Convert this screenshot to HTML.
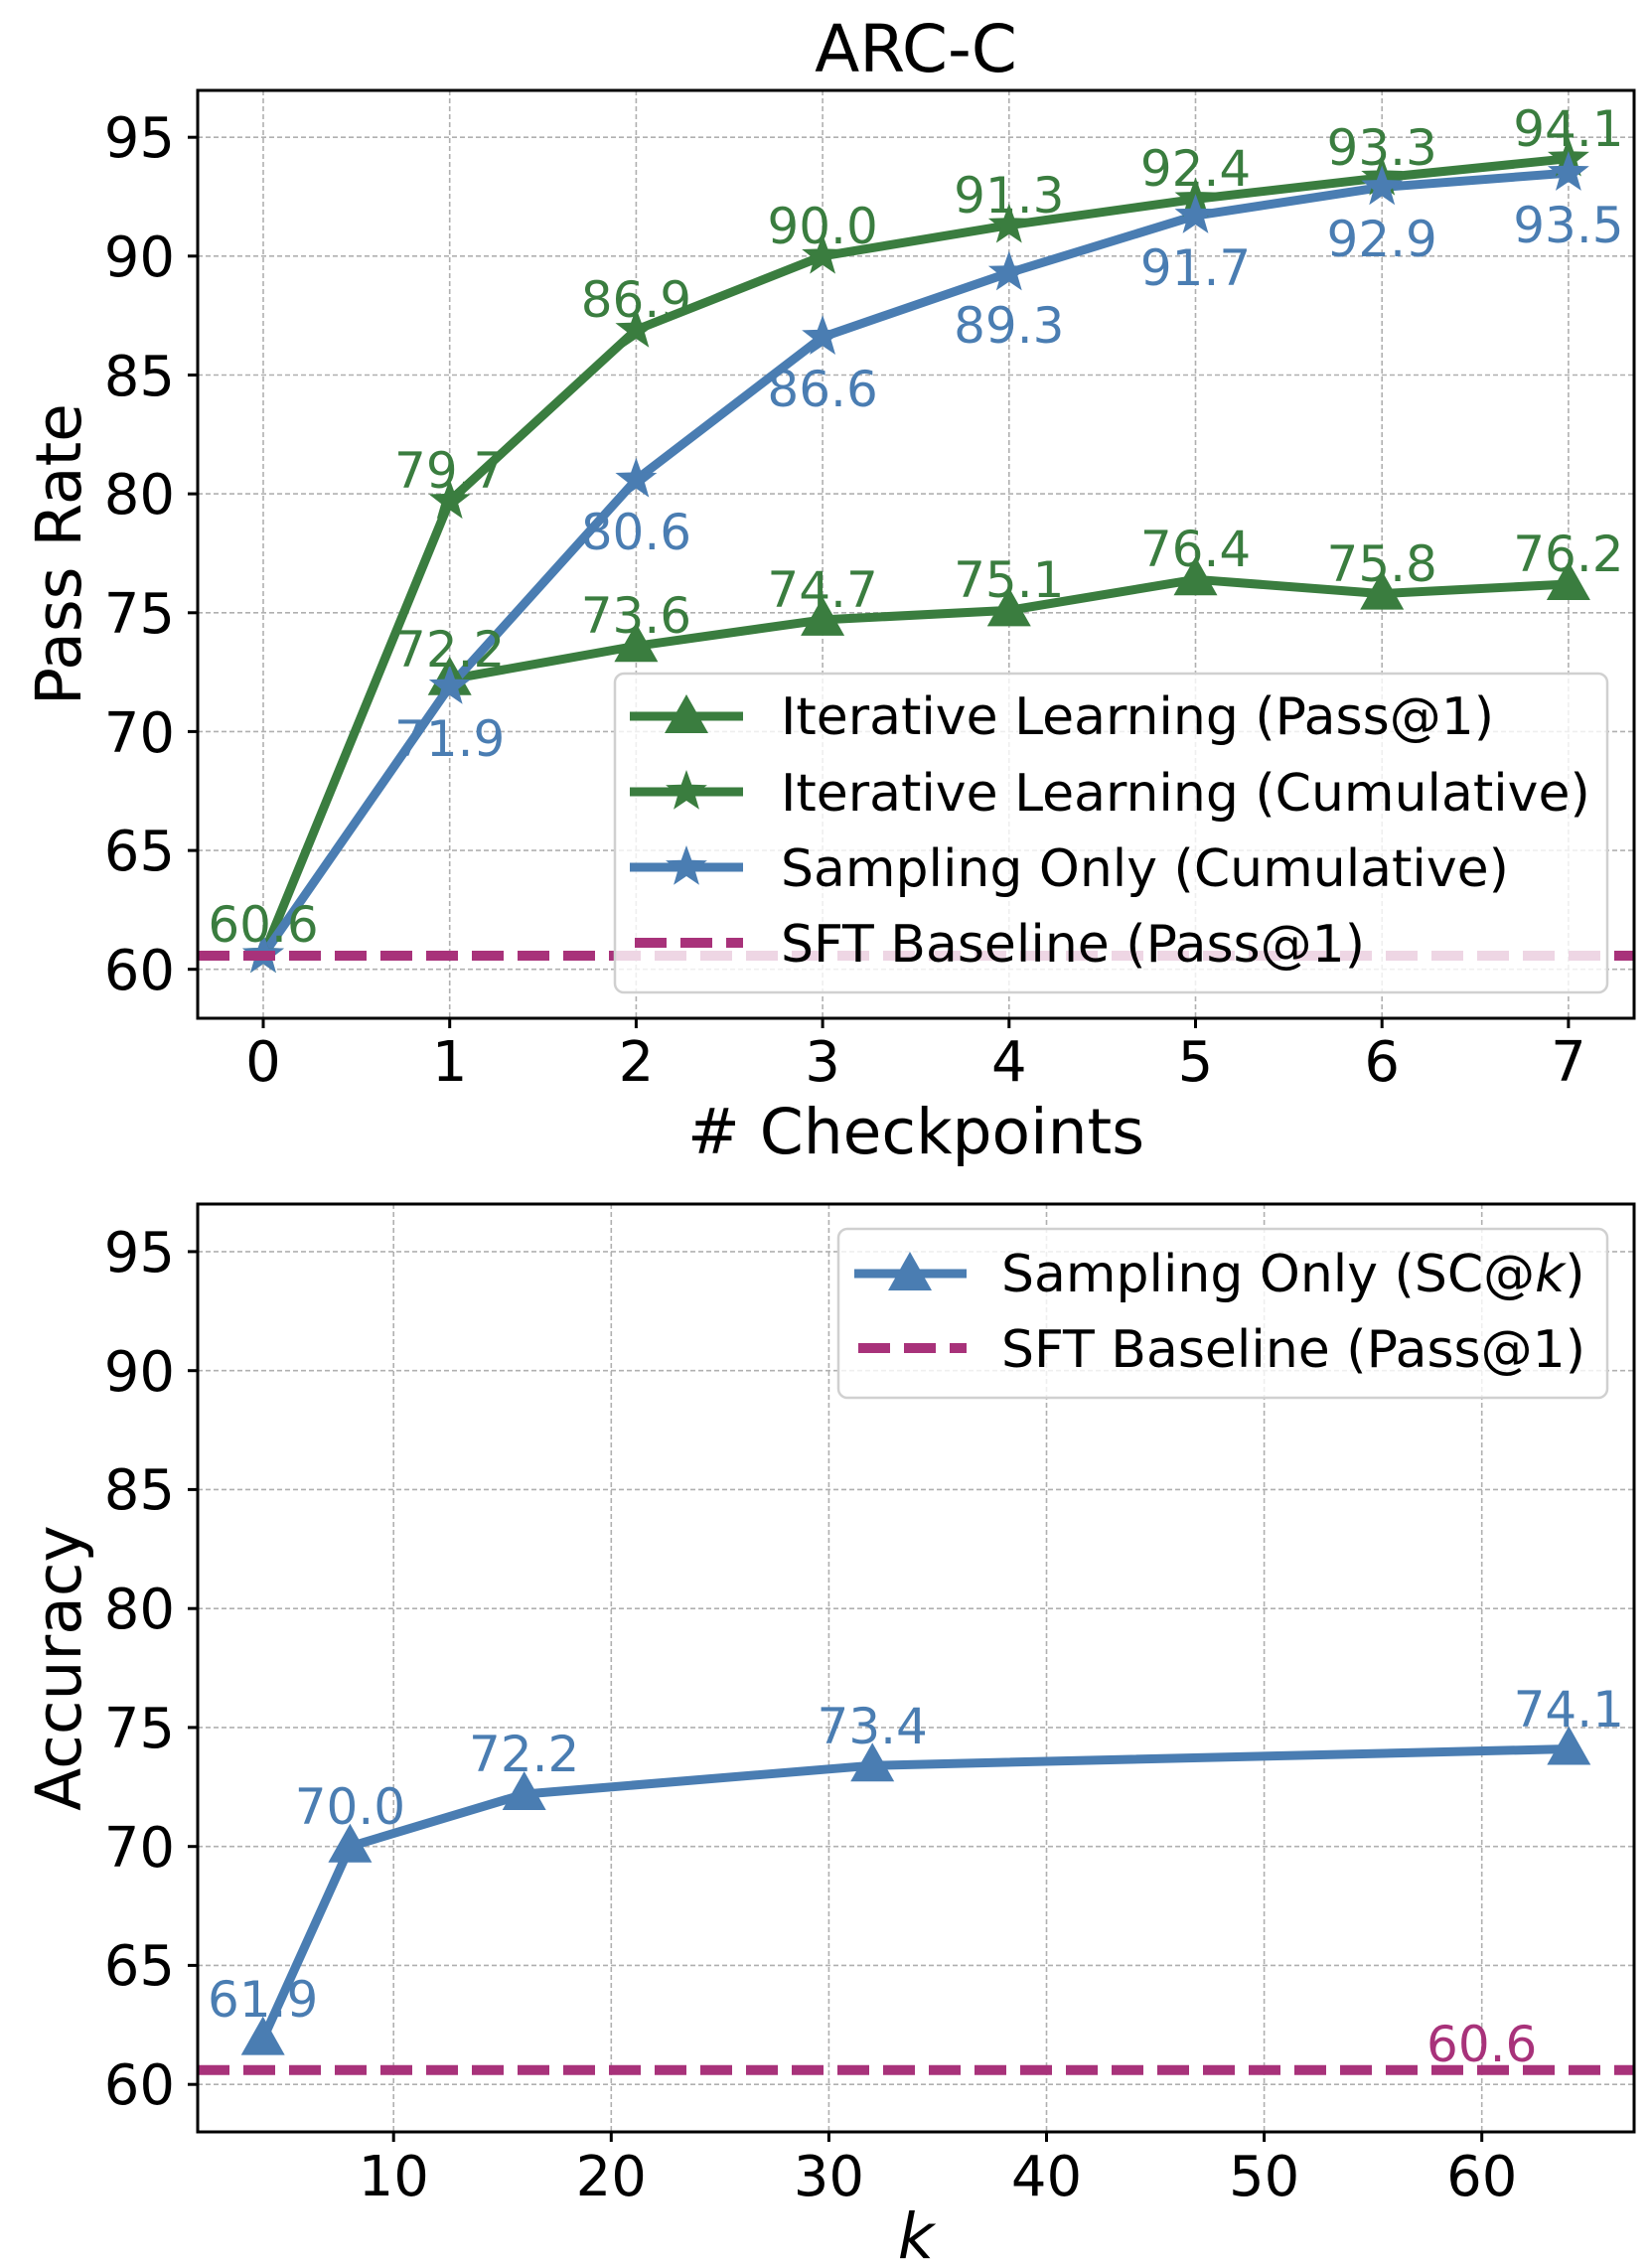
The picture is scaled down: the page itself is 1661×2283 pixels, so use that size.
<!DOCTYPE html>
<html><head><meta charset="utf-8"><style>
html,body{margin:0;padding:0;background:#fff}
svg{display:block}
text{font-family:"DejaVu Sans","Liberation Sans",sans-serif}
</style></head><body>
<svg width="1661" height="2283" viewBox="0 0 1661 2283" xmlns="http://www.w3.org/2000/svg">
<defs>
<path id="st" d="M0,-22 L5.29,-7.28 L20.92,-6.8 L8.56,2.78 L12.93,17.8 L0,9 L-12.93,17.8 L-8.56,2.78 L-20.92,-6.8 L-5.29,-7.28Z"/>
<path id="tr" d="M0,-23 L22,16 L-22,16Z"/>
</defs>
<rect width="1661" height="2283" fill="#fff"/>

<text x="922" y="72" font-size="66" text-anchor="middle">ARC-C</text>
<g stroke="#b0b0b0" stroke-width="1.6" stroke-dasharray="5,3" fill="none">
<line x1="265" y1="91" x2="265" y2="1025"/><line x1="452.7" y1="91" x2="452.7" y2="1025"/>
<line x1="640.4" y1="91" x2="640.4" y2="1025"/><line x1="828.1" y1="91" x2="828.1" y2="1025"/>
<line x1="1015.8" y1="91" x2="1015.8" y2="1025"/><line x1="1203.5" y1="91" x2="1203.5" y2="1025"/>
<line x1="1391.2" y1="91" x2="1391.2" y2="1025"/><line x1="1578.9" y1="91" x2="1578.9" y2="1025"/>
<line x1="199" y1="138.2" x2="1645" y2="138.2"/><line x1="199" y1="257.8" x2="1645" y2="257.8"/>
<line x1="199" y1="377.5" x2="1645" y2="377.5"/><line x1="199" y1="497.1" x2="1645" y2="497.1"/>
<line x1="199" y1="616.8" x2="1645" y2="616.8"/><line x1="199" y1="736.4" x2="1645" y2="736.4"/>
<line x1="199" y1="856.1" x2="1645" y2="856.1"/><line x1="199" y1="975.7" x2="1645" y2="975.7"/>
</g>
<polyline fill="none" stroke="#3a7d3f" stroke-width="9" stroke-linejoin="round" points="452.7,683.8 640.4,650.3 828.1,623.9 1015.8,614.4 1203.5,583.3 1391.2,597.6 1578.9,588"/>
<polyline fill="none" stroke="#3a7d3f" stroke-width="9" stroke-linejoin="round" points="265,961.4 452.7,504.3 640.4,332 828.1,257.8 1015.8,226.7 1203.5,200.4 1391.2,178.8 1578.9,159.7"/>
<polyline fill="none" stroke="#4a7db2" stroke-width="9" stroke-linejoin="round" points="265,961.4 452.7,690.9 640.4,482.8 828.1,339.2 1015.8,274.6 1203.5,217.1 1391.2,188.4 1578.9,174.1"/>
<g fill="#3a7d3f">
<use href="#tr" x="452.7" y="683.8"/><use href="#tr" x="640.4" y="650.3"/><use href="#tr" x="828.1" y="623.9"/><use href="#tr" x="1015.8" y="614.4"/><use href="#tr" x="1203.5" y="583.3"/><use href="#tr" x="1391.2" y="597.6"/><use href="#tr" x="1578.9" y="588"/>
<use href="#st" x="265" y="961.4"/><use href="#st" x="452.7" y="504.3"/><use href="#st" x="640.4" y="332"/><use href="#st" x="828.1" y="257.8"/><use href="#st" x="1015.8" y="226.7"/><use href="#st" x="1203.5" y="200.4"/><use href="#st" x="1391.2" y="178.8"/><use href="#st" x="1578.9" y="159.7"/>
</g>
<g fill="#4a7db2">
<use href="#st" x="265" y="961.4"/><use href="#st" x="452.7" y="690.9"/><use href="#st" x="640.4" y="482.8"/><use href="#st" x="828.1" y="339.2"/><use href="#st" x="1015.8" y="274.6"/><use href="#st" x="1203.5" y="217.1"/><use href="#st" x="1391.2" y="188.4"/><use href="#st" x="1578.9" y="174.1"/>
</g>
<line x1="199" y1="962" x2="1645" y2="962" stroke="#a8327a" stroke-width="10" stroke-dasharray="32,14"/>
<g font-size="50" text-anchor="middle" fill="#3a7d3f">
<text x="452.7" y="671">72.2</text><text x="640.4" y="637">73.6</text><text x="828.1" y="611">74.7</text><text x="1015.8" y="601">75.1</text><text x="1203.5" y="570">76.4</text><text x="1391.2" y="585">75.8</text><text x="1578.9" y="575">76.2</text>
<text x="265" y="948">60.6</text><text x="452.7" y="491">79.7</text><text x="640.4" y="319">86.9</text><text x="828.1" y="245">90.0</text><text x="1015.8" y="214">91.3</text><text x="1203.5" y="187">92.4</text><text x="1391.2" y="166">93.3</text><text x="1578.9" y="147">94.1</text>
</g>
<g font-size="50" text-anchor="middle" fill="#4a7db2">
<text x="452.7" y="761">71.9</text><text x="640.4" y="553">80.6</text><text x="828.1" y="409">86.6</text><text x="1015.8" y="345">89.3</text><text x="1203.5" y="287">91.7</text><text x="1391.2" y="258">92.9</text><text x="1578.9" y="244">93.5</text>
</g>
<rect x="619" y="678" width="999" height="321" rx="9" fill="#fff" fill-opacity="0.8" stroke="#d0d0d0" stroke-width="2.5"/>
<line x1="634" y1="721" x2="748" y2="721" stroke="#3a7d3f" stroke-width="9"/>
<use href="#tr" x="691" y="722" fill="#3a7d3f"/>
<line x1="634" y1="797" x2="748" y2="797" stroke="#3a7d3f" stroke-width="9"/>
<use href="#st" x="691" y="797" fill="#3a7d3f"/>
<line x1="634" y1="873" x2="748" y2="873" stroke="#4a7db2" stroke-width="9"/>
<use href="#st" x="691" y="873" fill="#4a7db2"/>
<line x1="639" y1="949" x2="748" y2="949" stroke="#a8327a" stroke-width="10" stroke-dasharray="32,14"/>
<g font-size="52">
<text x="786" y="739">Iterative Learning (Pass@1)</text>
<text x="786" y="816">Iterative Learning (Cumulative)</text>
<text x="786" y="892">Sampling Only (Cumulative)</text>
<text x="786" y="968">SFT Baseline (Pass@1)</text>
</g>
<rect x="199" y="91" width="1446" height="934" fill="none" stroke="#000" stroke-width="3"/>
<g stroke="#000" stroke-width="3">
<line x1="189" y1="138.2" x2="199" y2="138.2"/><line x1="189" y1="257.8" x2="199" y2="257.8"/><line x1="189" y1="377.5" x2="199" y2="377.5"/><line x1="189" y1="497.1" x2="199" y2="497.1"/><line x1="189" y1="616.8" x2="199" y2="616.8"/><line x1="189" y1="736.4" x2="199" y2="736.4"/><line x1="189" y1="856.1" x2="199" y2="856.1"/><line x1="189" y1="975.7" x2="199" y2="975.7"/>
<line x1="265" y1="1025" x2="265" y2="1035"/><line x1="452.7" y1="1025" x2="452.7" y2="1035"/><line x1="640.4" y1="1025" x2="640.4" y2="1035"/><line x1="828.1" y1="1025" x2="828.1" y2="1035"/><line x1="1015.8" y1="1025" x2="1015.8" y2="1035"/><line x1="1203.5" y1="1025" x2="1203.5" y2="1035"/><line x1="1391.2" y1="1025" x2="1391.2" y2="1035"/><line x1="1578.9" y1="1025" x2="1578.9" y2="1035"/>
</g>
<g font-size="56" text-anchor="end">
<text x="176" y="158">95</text><text x="176" y="278">90</text><text x="176" y="398">85</text><text x="176" y="517">80</text><text x="176" y="637">75</text><text x="176" y="757">70</text><text x="176" y="876">65</text><text x="176" y="996">60</text>
</g>
<g font-size="56" text-anchor="middle">
<text x="265" y="1088">0</text><text x="452.7" y="1088">1</text><text x="640.4" y="1088">2</text><text x="828.1" y="1088">3</text><text x="1015.8" y="1088">4</text><text x="1203.5" y="1088">5</text><text x="1391.2" y="1088">6</text><text x="1578.9" y="1088">7</text>
</g>
<text x="922" y="1161" font-size="63" text-anchor="middle"># Checkpoints</text>
<text transform="translate(81,558) rotate(-90)" font-size="63" text-anchor="middle">Pass Rate</text>

<g stroke="#b0b0b0" stroke-width="1.6" stroke-dasharray="5,3" fill="none">
<line x1="396.2" y1="1212" x2="396.2" y2="2146"/><line x1="615.3" y1="1212" x2="615.3" y2="2146"/><line x1="834.4" y1="1212" x2="834.4" y2="2146"/><line x1="1053.5" y1="1212" x2="1053.5" y2="2146"/><line x1="1272.6" y1="1212" x2="1272.6" y2="2146"/><line x1="1491.7" y1="1212" x2="1491.7" y2="2146"/>
<line x1="199" y1="1259.9" x2="1645" y2="1259.9"/><line x1="199" y1="1379.7" x2="1645" y2="1379.7"/><line x1="199" y1="1499.4" x2="1645" y2="1499.4"/><line x1="199" y1="1619.2" x2="1645" y2="1619.2"/><line x1="199" y1="1738.9" x2="1645" y2="1738.9"/><line x1="199" y1="1858.7" x2="1645" y2="1858.7"/><line x1="199" y1="1978.4" x2="1645" y2="1978.4"/><line x1="199" y1="2098.2" x2="1645" y2="2098.2"/>
</g>
<polyline fill="none" stroke="#4a7db2" stroke-width="9" stroke-linejoin="round" points="264.7,2052.6 352.4,1858.7 527.7,1806 878.2,1777.2 1579.3,1760.5"/>
<g fill="#4a7db2">
<use href="#tr" x="264.7" y="2052.6"/><use href="#tr" x="352.4" y="1858.7"/><use href="#tr" x="527.7" y="1806"/><use href="#tr" x="878.2" y="1777.2"/><use href="#tr" x="1579.3" y="1760.5"/>
</g>
<line x1="199" y1="2083.8" x2="1645" y2="2083.8" stroke="#a8327a" stroke-width="10" stroke-dasharray="32,14"/>
<g font-size="50" text-anchor="middle" fill="#4a7db2">
<text x="264.7" y="2030">61.9</text><text x="352.4" y="1836">70.0</text><text x="527.7" y="1783">72.2</text><text x="878.2" y="1755">73.4</text><text x="1579.3" y="1738">74.1</text>
</g>
<text x="1491.7" y="2075" font-size="50" text-anchor="middle" fill="#a8327a">60.6</text>
<rect x="844" y="1237" width="774" height="170" rx="9" fill="#fff" fill-opacity="0.8" stroke="#d0d0d0" stroke-width="2.5"/>
<line x1="860" y1="1282" x2="973" y2="1282" stroke="#4a7db2" stroke-width="9"/>
<use href="#tr" x="916" y="1283" fill="#4a7db2"/>
<line x1="864" y1="1357" x2="973" y2="1357" stroke="#a8327a" stroke-width="10" stroke-dasharray="32,14"/>
<g font-size="52">
<text x="1008" y="1300">Sampling Only (SC@<tspan font-style="italic">k</tspan>)</text>
<text x="1008" y="1376">SFT Baseline (Pass@1)</text>
</g>
<rect x="199" y="1212" width="1446" height="934" fill="none" stroke="#000" stroke-width="3"/>
<g stroke="#000" stroke-width="3">
<line x1="189" y1="1259.9" x2="199" y2="1259.9"/><line x1="189" y1="1379.7" x2="199" y2="1379.7"/><line x1="189" y1="1499.4" x2="199" y2="1499.4"/><line x1="189" y1="1619.2" x2="199" y2="1619.2"/><line x1="189" y1="1738.9" x2="199" y2="1738.9"/><line x1="189" y1="1858.7" x2="199" y2="1858.7"/><line x1="189" y1="1978.4" x2="199" y2="1978.4"/><line x1="189" y1="2098.2" x2="199" y2="2098.2"/>
<line x1="396.2" y1="2146" x2="396.2" y2="2156"/><line x1="615.3" y1="2146" x2="615.3" y2="2156"/><line x1="834.4" y1="2146" x2="834.4" y2="2156"/><line x1="1053.5" y1="2146" x2="1053.5" y2="2156"/><line x1="1272.6" y1="2146" x2="1272.6" y2="2156"/><line x1="1491.7" y1="2146" x2="1491.7" y2="2156"/>
</g>
<g font-size="56" text-anchor="end">
<text x="176" y="1280">95</text><text x="176" y="1400">90</text><text x="176" y="1519">85</text><text x="176" y="1639">80</text><text x="176" y="1759">75</text><text x="176" y="1879">70</text><text x="176" y="1998">65</text><text x="176" y="2118">60</text>
</g>
<g font-size="56" text-anchor="middle">
<text x="396.2" y="2210">10</text><text x="615.3" y="2210">20</text><text x="834.4" y="2210">30</text><text x="1053.5" y="2210">40</text><text x="1272.6" y="2210">50</text><text x="1491.7" y="2210">60</text>
</g>
<text x="922" y="2273" font-size="63" font-style="italic" text-anchor="middle">k</text>
<text transform="translate(81,1679) rotate(-90)" font-size="63" text-anchor="middle">Accuracy</text>
</svg>
</body></html>
